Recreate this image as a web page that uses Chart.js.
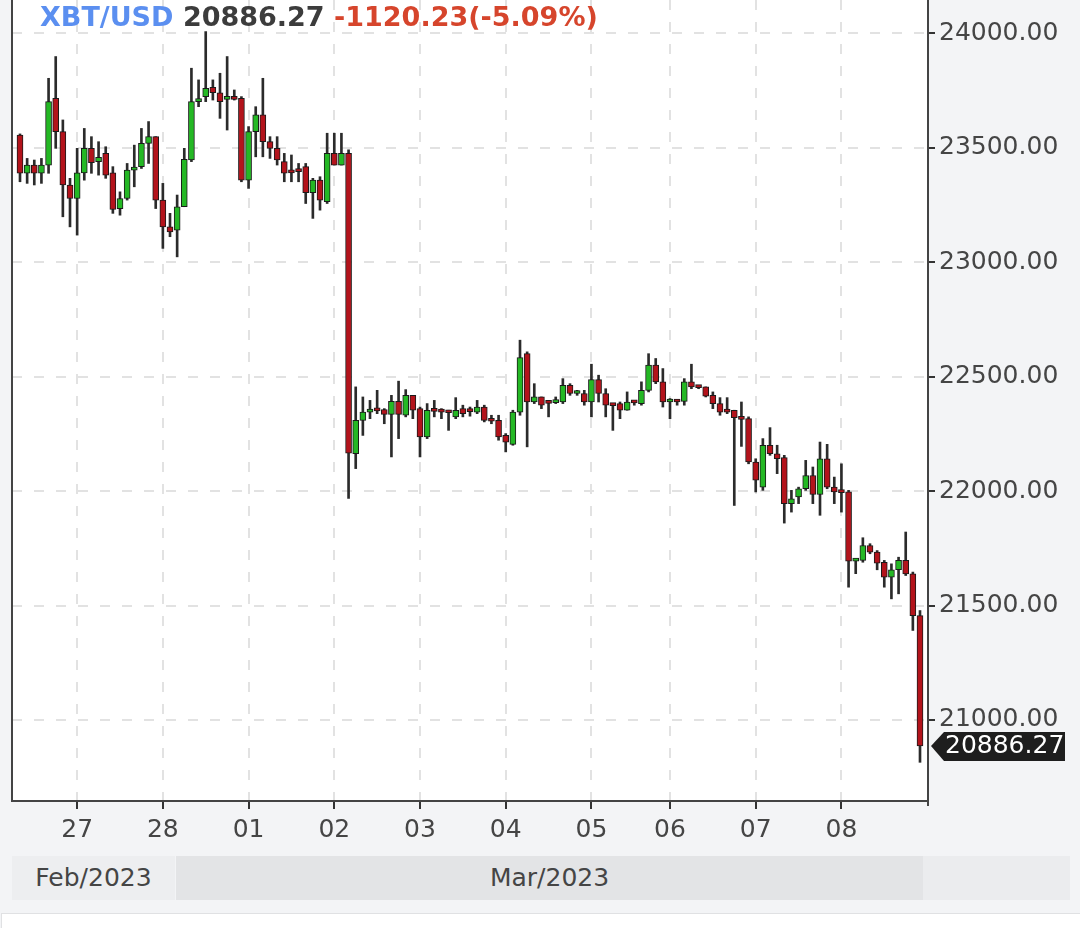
<!DOCTYPE html>
<html>
<head>
<meta charset="utf-8">
<script src="https://cdn.jsdelivr.net/npm/chart.js@4.4.0/dist/chart.umd.min.js"></script>
<style>
html,body{margin:0;padding:0;background:#f3f4f6;}
#wrap{position:relative;width:1080px;height:928px;overflow:hidden;font-family:"DejaVu Sans",sans-serif;}
#c{position:absolute;left:0;top:0;}
#title{position:absolute;left:40px;top:2px;font-weight:bold;font-size:27px;line-height:30px;white-space:nowrap;}
.band{position:absolute;top:856px;height:44px;line-height:44px;font-size:25px;color:#454545;text-align:center;}
#bottom{position:absolute;left:1px;top:913px;width:1078px;height:30px;background:#fff;border:1px solid #e0e1e3;}
</style>
</head>
<body>
<div id="wrap">
<canvas id="c" width="1080" height="928"></canvas>
<div id="title"><span style="color:#5b8ff0">XBT/USD</span> <span style="color:#3c3c3c">20886.27</span> <span style="color:#d6452c">-1120.23(-5.09%)</span></div>
<div class="band" style="left:12px;width:163px;background:#edeef0;">Feb/2023</div>
<div class="band" style="left:176px;width:747px;background:#e3e4e6;">Mar/2023</div>
<div class="band" style="left:923px;width:147px;background:#ebecee;"></div>
<div id="bottom"></div>
</div>
<script>
// 2-hour candles, "MM-DD HH"
const times = [
"02-26 08","02-26 10","02-26 12","02-26 14","02-26 16","02-26 18","02-26 20","02-26 22",
"02-27 00","02-27 02","02-27 04","02-27 06","02-27 08","02-27 10","02-27 12","02-27 14","02-27 16","02-27 18","02-27 20","02-27 22",
"02-28 00","02-28 02","02-28 04","02-28 06","02-28 08","02-28 10","02-28 12","02-28 14","02-28 16","02-28 18","02-28 20","02-28 22",
"03-01 00","03-01 02","03-01 04","03-01 06","03-01 08","03-01 10","03-01 12","03-01 14","03-01 16","03-01 18","03-01 20","03-01 22",
"03-02 00","03-02 02","03-02 04","03-02 06","03-02 08","03-02 10","03-02 12","03-02 14","03-02 16","03-02 18","03-02 20","03-02 22",
"03-03 00","03-03 02","03-03 04","03-03 06","03-03 08","03-03 10","03-03 12","03-03 14","03-03 16","03-03 18","03-03 20","03-03 22",
"03-04 00","03-04 02","03-04 04","03-04 06","03-04 08","03-04 10","03-04 12","03-04 14","03-04 16","03-04 18","03-04 20","03-04 22",
"03-05 00","03-05 02","03-05 06","03-05 08","03-05 10","03-05 12","03-05 14","03-05 16","03-05 18","03-05 20","03-05 22",
"03-06 00","03-06 02","03-06 04","03-06 06","03-06 08","03-06 10","03-06 12","03-06 14","03-06 16","03-06 18","03-06 20","03-06 22",
"03-07 00","03-07 02","03-07 04","03-07 06","03-07 08","03-07 10","03-07 12","03-07 14","03-07 16","03-07 18","03-07 20","03-07 22",
"03-08 00","03-08 02","03-08 04","03-08 06","03-08 08","03-08 10","03-08 12","03-08 14","03-08 16","03-08 18","03-08 20","03-08 22"
];
const opens = [
23555,23388,23424,23388,23424,23716,23570,23337,23278,23390,23497,23439,23475,23390,23234,23278,23402,23417,23519,23548,
23271,23154,23140,23242,23446,23701,23723,23764,23740,23711,23716,23716,23358,23570,23643,23526,23497,23439,23395,23399,
23417,23303,23358,23264,23475,23424,23475,22163,22309,22345,22353,22356,22335,22392,22331,22418,22360,22236,22353,22348,
22345,22324,22360,22350,22345,22367,22309,22309,22243,22204,22345,22600,22389,22411,22386,22386,22389,22462,22426,22426,
22389,22487,22426,22375,22382,22353,22389,22382,22440,22550,22477,22389,22392,22392,22477,22455,22455,22418,22382,22350,
22353,22316,22316,22127,22017,22200,22163,22146,21945,21974,22010,22068,21985,22141,22017,21996,21996,21694,21697,21762,
21733,21689,21624,21656,21697,21638,21456
];
const highs = [
23560,23453,23446,23453,23803,23898,23621,23366,23497,23584,23548,23526,23504,23417,23307,23431,23511,23584,23614,23548,
23344,23213,23293,23497,23847,23796,24007,23796,23825,23898,23752,23723,23592,23679,23803,23548,23548,23475,23468,23431,
23431,23366,23373,23563,23563,23563,23490,22455,22411,22396,22440,22360,22418,22480,22443,22418,22367,22382,22396,22360,
22353,22408,22375,22367,22396,22375,22331,22331,22251,22353,22659,22608,22469,22411,22396,22411,22491,22469,22440,22440,
22554,22506,22447,22382,22389,22433,22396,22477,22600,22579,22535,22404,22396,22491,22554,22460,22455,22433,22408,22408,
22353,22389,22324,22141,22229,22277,22200,22156,22003,22017,22134,22105,22214,22204,22061,22119,22003,21697,21796,21770,
21740,21697,21682,21711,21821,21646,21478
];
const lows = [
23351,23344,23337,23344,23388,23497,23198,23154,23118,23358,23388,23380,23366,23213,23205,23271,23329,23409,23431,23234,
23060,23111,23023,23242,23439,23679,23701,23708,23628,23577,23708,23351,23322,23460,23460,23453,23424,23351,23351,23351,
23256,23191,23227,23256,23424,23424,21968,22098,22243,22316,22338,22294,22149,22229,22324,22316,22149,22229,22324,22316,
22265,22316,22324,22327,22338,22302,22294,22222,22171,22200,22331,22193,22382,22360,22324,22382,22382,22418,22418,22375,
22324,22389,22324,22265,22316,22353,22375,22375,22433,22469,22367,22316,22375,22375,22447,22447,22411,22360,22331,22338,
21937,22195,22119,21996,22003,22156,22076,21860,21908,21945,22003,21945,21894,22010,21945,21908,21580,21639,21689,21726,
21656,21580,21529,21551,21631,21391,20815
];
const closes = [
23388,23424,23388,23424,23701,23570,23337,23278,23390,23497,23434,23458,23380,23230,23278,23402,23409,23519,23548,23271,
23154,23132,23242,23449,23701,23711,23759,23740,23701,23716,23711,23358,23570,23643,23526,23497,23446,23388,23390,23395,
23303,23358,23271,23475,23424,23475,22165,22309,22345,22353,22350,22335,22392,22335,22418,22353,22236,22353,22348,22345,
22342,22353,22338,22347,22367,22309,22305,22236,22214,22345,22583,22389,22411,22375,22383,22392,22462,22426,22428,22389,
22487,22426,22375,22373,22353,22389,22385,22440,22550,22477,22389,22392,22389,22477,22455,22452,22414,22382,22345,22345,
22321,22313,22127,22047,22200,22163,22141,21945,21966,22010,22068,21985,22141,22017,21996,21993,21694,21697,21762,21733,
21685,21624,21656,21697,21638,21456,20886.27
];
const yTickValues = [21000, 21500, 22000, 22500, 23000, 23500, 24000];
const lastPrice = 20886.27;

const UP = '#24b824', DOWN = '#b3131b';
const bodies = opens.map((o, i) => ({x: i, y: [o, closes[i]]}));
const wicks = lows.map((l, i) => ({x: i, y: [l, highs[i]]}));
const bodyColors = opens.map((o, i) => closes[i] >= o ? UP : DOWN);
const dayTickIdx = times.map((t, i) => t.endsWith(' 00') ? i : null).filter(v => v !== null);

const frame = {
  id: 'frame',
  beforeDraw(chart) {
    const a = chart.chartArea, c = chart.ctx;
    c.save();
    c.fillStyle = '#ffffff';
    c.fillRect(a.left, a.top, a.right - a.left, a.bottom - a.top);
    c.restore();
  },
  afterDraw(chart) {
    const a = chart.chartArea, c = chart.ctx;
    c.save();
    c.strokeStyle = '#444';
    c.lineWidth = 2;
    c.beginPath();
    c.moveTo(a.left, 0);
    c.lineTo(a.left, a.bottom + 1);
    c.stroke();
    c.beginPath();
    c.moveTo(a.right, a.bottom);
    c.lineTo(a.right, a.bottom + 5);
    c.stroke();
    // last price tag
    const y = chart.scales.y.getPixelForValue(lastPrice);
    const x0 = a.right + 3;
    c.fillStyle = '#1e1e1e';
    c.beginPath();
    c.moveTo(x0, y);
    c.lineTo(x0 + 13, y - 14);
    c.lineTo(1065, y - 14);
    c.lineTo(1065, y + 15);
    c.lineTo(x0 + 13, y + 15);
    c.closePath();
    c.fill();
    c.fillStyle = '#ffffff';
    c.font = '25px "DejaVu Sans"';
    c.textBaseline = 'middle';
    c.textAlign = 'left';
    c.fillText(lastPrice.toFixed(2), x0 + 14, y + 1);
    c.restore();
  }
};

const gridCommon = {color: '#e2e2e2', lineWidth: 2, tickColor: '#333', tickWidth: 2, tickBorderDash: [], offset: false};
const noPad = s => { s.paddingTop = 0; s.paddingBottom = 0; s.paddingLeft = 0; s.paddingRight = 0; };

new Chart(document.getElementById('c'), {
  type: 'bar',
  data: {
    datasets: [
      {label: 'body', data: bodies, backgroundColor: bodyColors, borderColor: '#1a1a1a', borderWidth: 1,
       borderSkipped: false, barThickness: 6, minBarLength: 3, grouped: false, order: 0},
      {label: 'wick', data: wicks, backgroundColor: '#2b2b2b', borderWidth: 0,
       barThickness: 2, minBarLength: 1, grouped: false, order: 1}
    ]
  },
  options: {
    responsive: false,
    animation: false,
    layout: {padding: {left: 12, top: 0, right: 0, bottom: 0}},
    plugins: {legend: {display: false}, tooltip: {enabled: false}, title: {display: false}},
    scales: {
      x: {
        type: 'linear', position: 'bottom', min: -1.12, max: 127.12, offset: false,
        afterBuildTicks: s => { s.ticks = dayTickIdx.map(v => ({value: v})); },
        afterFit: s => { s.height = 127; noPad(s); },
        grid: Object.assign({}, gridCommon, {tickLength: 8}),
        border: {color: '#444', width: 2, dash: [10, 12]},
        ticks: {font: {family: 'DejaVu Sans', size: 25}, color: '#454545', padding: 6,
                maxRotation: 0, autoSkip: false,
                callback: v => times[v] ? times[v].slice(3, 5) : ''}
      },
      y: {
        type: 'linear', position: 'right', min: 20646, max: 24145, beginAtZero: false,
        afterBuildTicks: s => { s.ticks = yTickValues.map(v => ({value: v})); },
        afterFit: s => { s.width = 152; noPad(s); },
        grid: Object.assign({}, gridCommon, {tickLength: 7}),
        border: {color: '#444', width: 2, dash: [10, 12]},
        ticks: {font: {family: 'DejaVu Sans', size: 25}, color: '#454545', padding: 4,
                callback: v => Number(v).toFixed(2)}
      }
    }
  },
  plugins: [frame]
});
</script>
</body>
</html>
